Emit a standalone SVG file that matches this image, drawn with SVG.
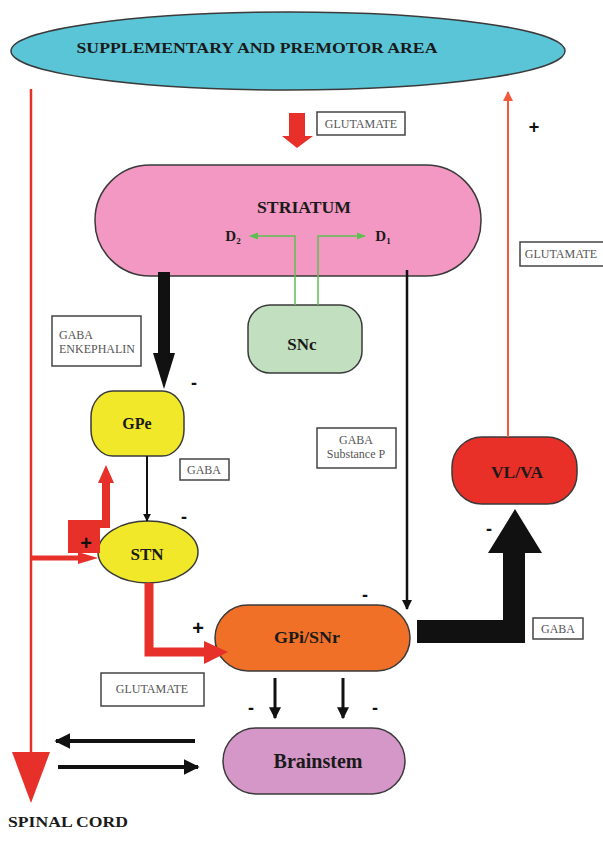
<svg xmlns="http://www.w3.org/2000/svg" width="603" height="846" viewBox="0 0 603 846">
<style>
.node{stroke:#3a3a3a;stroke-width:1.5}
.t{font-family:"Liberation Serif","Times New Roman",serif;font-weight:bold;fill:#1a1a1a;text-anchor:middle}
.lb{fill:#fff;stroke:#444;stroke-width:1.5}
.lt{font-family:"Liberation Serif","Times New Roman",serif;font-size:12px;fill:#555;text-anchor:middle}
.ls{font-family:"Liberation Serif","Times New Roman",serif;font-size:12px;fill:#555;text-anchor:start}
.sg{font-family:"Liberation Sans",Arial,sans-serif;font-weight:bold;fill:#111;text-anchor:middle}
.blk{stroke:#111;fill:none}
.red{fill:#e8302a}
</style>
<defs>
<marker id="ab" viewBox="0 0 10 10" refX="9" refY="5" markerWidth="4" markerHeight="4" orient="auto" markerUnits="strokeWidth"><path d="M0,0 L10,5 L0,10 Z" fill="#111"/></marker>
<marker id="ag" viewBox="0 0 10 10" refX="9" refY="5" markerWidth="6" markerHeight="6" orient="auto" markerUnits="strokeWidth"><path d="M0,1 L10,5 L0,9 Z" fill="#5cc050"/></marker>
<marker id="ar" viewBox="0 0 10 10" refX="9" refY="5" markerWidth="5" markerHeight="5" orient="auto" markerUnits="strokeWidth"><path d="M0,0 L10,5 L0,10 Z" fill="#f05a3c"/></marker>
</defs>

<g id="cortex"><ellipse class="node" cx="288" cy="51" rx="277" ry="39" fill="#5bc5d8"/>
<text class="t" x="257" y="53" font-size="15" textLength="361" lengthAdjust="spacingAndGlyphs">SUPPLEMENTARY AND PREMOTOR AREA</text></g>

<g id="striatum"><rect class="node" x="95" y="165" width="386" height="111" rx="55" ry="55" fill="#f298c2"/>
<text class="t" x="304" y="213" font-size="16" textLength="94" lengthAdjust="spacingAndGlyphs">STRIATUM</text>
<text class="t" x="233" y="241" font-size="15">D<tspan font-size="9" dy="3">2</tspan></text>
<text class="t" x="383" y="241" font-size="15">D<tspan font-size="9" dy="3">1</tspan></text></g>

<g id="snc"><rect class="node" x="248" y="305" width="114" height="68" rx="22" ry="22" fill="#c2e0bf"/>
<text class="t" x="302" y="350" font-size="17">SNc</text></g>

<g id="gpe"><rect class="node" x="91" y="391" width="93" height="65" rx="22" ry="26" fill="#f0e828"/>
<text class="t" x="137" y="429" font-size="16">GPe</text></g>

<g id="stn"><ellipse class="node" cx="148" cy="552" rx="50" ry="31" fill="#f0e828"/>
<text class="t" x="147" y="560" font-size="17">STN</text></g>

<g id="gpi"><rect class="node" x="215" y="605" width="195" height="66" rx="33" ry="33" fill="#f07028"/>
<text class="t" x="307" y="643" font-size="16" textLength="66" lengthAdjust="spacingAndGlyphs">GPi/SNr</text></g>

<g id="vlva"><rect class="node" x="452" y="437" width="125" height="67" rx="30" ry="30" fill="#e83028"/>
<text class="t" x="517" y="478" font-size="16" textLength="52" lengthAdjust="spacingAndGlyphs">VL/VA</text></g>

<g id="brainstem"><rect class="node" x="223" y="728" width="182" height="66" rx="33" ry="33" fill="#d596c8"/>
<text class="t" x="318" y="768" font-size="20">Brainstem</text></g>

<g id="connectors">
<line x1="31" y1="89" x2="31" y2="755" stroke="#e8302a" stroke-width="2.5"/>
<polygon class="red" points="12,752 50,752 31,803"/>
<polygon class="red" points="289,113 305,113 305,136 313,136 297,148 282,136 289,136"/>
<line x1="508" y1="437" x2="508" y2="92" stroke="#f05a3c" stroke-width="2" marker-end="url(#ar)"/>
<polyline points="295,305 295,236 250,236" fill="none" stroke="#5cc050" stroke-width="1.5" marker-end="url(#ag)"/>
<polyline points="318,305 318,236 365,236" fill="none" stroke="#5cc050" stroke-width="1.5" marker-end="url(#ag)"/>
<rect x="158" y="272" width="12" height="83" fill="#111"/>
<polygon points="153,353 175,353 164,389" fill="#111"/>
<line class="blk" x1="147" y1="456" x2="147" y2="521" stroke-width="2" marker-end="url(#ab)"/>
<line class="blk" x1="407" y1="270" x2="407" y2="609" stroke-width="2.5" marker-end="url(#ab)"/>
<line x1="31" y1="558" x2="82" y2="558" stroke="#e8302a" stroke-width="5"/>
<polygon class="red" points="78,552 98,558 78,564"/>
<path class="red" d="M68,553 V520 H102 V483 H98 L106,465 L114,483 H110 V528 H100 V553 Z"/>
<path d="M149,583 V652 H208" fill="none" stroke="#e8302a" stroke-width="9"/>
<polygon class="red" points="204,641 228,652 204,664"/>
<path d="M417,620 H503 V553 H488 L515,509 L542,553 H525 V643 H417 Z" fill="#111"/>
<line class="blk" x1="275" y1="678" x2="275" y2="718" stroke-width="3" marker-end="url(#ab)"/>
<line class="blk" x1="343" y1="678" x2="343" y2="718" stroke-width="3" marker-end="url(#ab)"/>
<line class="blk" x1="195" y1="741" x2="56" y2="741" stroke-width="4" marker-end="url(#ab)"/>
<line class="blk" x1="58" y1="767" x2="198" y2="767" stroke-width="4" marker-end="url(#ab)"/>
</g>

<g id="labels">
<rect class="lb" x="317" y="112" width="88" height="23"/>
<text class="lt" x="361" y="128">GLUTAMATE</text>
<rect class="lb" x="520" y="242" width="85" height="24"/>
<text class="lt" x="561" y="258">GLUTAMATE</text>
<rect class="lb" x="52" y="316" width="89" height="50"/>
<text class="ls" x="59" y="339">GABA</text>
<text class="ls" x="59" y="353">ENKEPHALIN</text>
<rect class="lb" x="180" y="459" width="49" height="21"/>
<text class="lt" x="204" y="474">GABA</text>
<rect class="lb" x="317" y="428" width="79" height="40"/>
<text class="lt" x="356" y="444">GABA</text>
<text class="lt" x="356" y="458">Substance P</text>
<rect class="lb" x="533" y="618" width="50" height="21"/>
<text class="lt" x="558" y="633">GABA</text>
<rect class="lb" x="101" y="673" width="103" height="33"/>
<text class="lt" x="152" y="693">GLUTAMATE</text>
<text class="sg" x="534" y="133" font-size="18">+</text>
<text class="sg" x="194" y="389" font-size="18">-</text>
<text class="sg" x="184" y="523" font-size="18">-</text>
<text class="sg" x="86" y="550" font-size="20">+</text>
<text class="sg" x="198" y="635" font-size="20">+</text>
<text class="sg" x="365" y="601" font-size="18">-</text>
<text class="sg" x="489" y="535" font-size="18">-</text>
<text class="sg" x="251" y="714" font-size="18">-</text>
<text class="sg" x="375" y="714" font-size="18">-</text>
<text class="t" x="68" y="827" font-size="14" textLength="120" lengthAdjust="spacingAndGlyphs">SPINAL CORD</text>
</g>
</svg>
